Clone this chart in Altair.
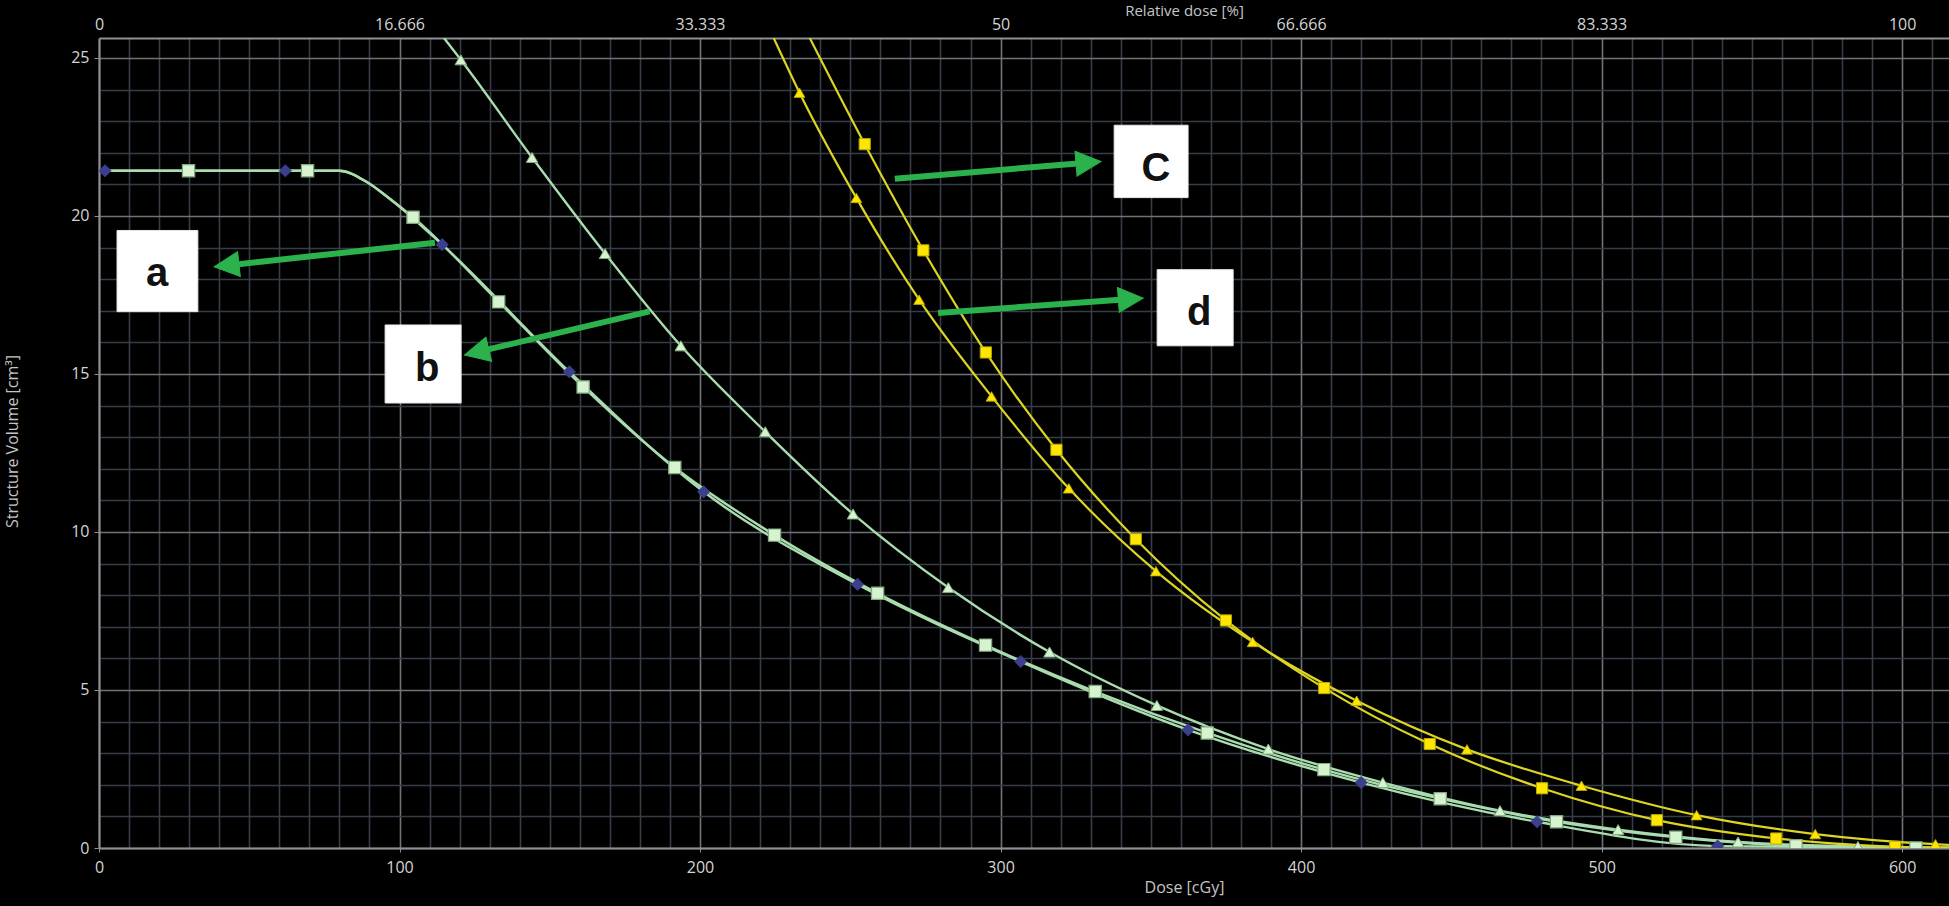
import math

import altair as alt
import pandas as pd

# ---------------------------------------------------------------- axes ranges
DOSE_MAX = 615.6          # cGy at the right edge of the plot
VOL_MAX = 25.63           # cm3 at the top edge of the plot
REL_PER_CGY = 100 / 600   # 600 cGy corresponds to 100 % relative dose
W, H = 1850, 810          # plot area in px

# ---------------------------------------------------------------- DVH curves
# a: plan drawn with square markers
A_SQ_DOSE = [29.8, 69.4, 104.5, 133.0, 161.1, 191.6, 224.8, 259.1, 295.0, 331.5,
             368.8, 407.6, 446.3, 485.0, 524.7, 564.7, 604.6]
A_SQ_VOL = [21.43, 21.43, 19.96, 17.28, 14.59, 12.04, 9.90, 8.06, 6.42, 4.95,
            3.64, 2.48, 1.56, 0.83, 0.34, 0.07, 0.00]
# a: companion plan drawn with diamond markers (almost on top of the first)
A_DM_DOSE = [2.0, 62.0, 114.2, 156.5, 201.2, 252.4, 306.7, 362.4, 420.0, 478.5, 538.6]
A_DM_VOL = [21.43, 21.43, 19.09, 15.07, 11.27, 8.34, 5.90, 3.74, 2.07, 0.83, 0.06]
# shoulder of curve a, between the plateau and the first falling marker
A_KNEE_DOSE = [0.0, 80.0, 89.0, 96.0]
A_KNEE_VOL = [21.43, 21.43, 21.08, 20.60]

# b: triangle markers
B_DOSE = [120.4, 144.1, 168.4, 193.6, 221.7, 250.9, 282.6, 316.3, 352.0, 389.1,
          427.2, 466.2, 505.5, 545.4, 585.3]
B_VOL = [24.94, 21.85, 18.81, 15.89, 13.17, 10.57, 8.24, 6.20, 4.51, 3.13,
         2.07, 1.18, 0.58, 0.19, 0.05]

# c: yellow, square markers
C_DOSE = [254.8, 274.3, 295.1, 318.6, 345.0, 375.0, 407.7, 442.8, 480.2, 518.4, 558.1, 597.7]
C_VOL = [22.27, 18.91, 15.68, 12.60, 9.77, 7.20, 5.06, 3.29, 1.89, 0.88, 0.30, 0.04]

# d: yellow, triangle markers
D_DOSE = [233.1, 252.0, 272.9, 297.0, 322.7, 351.7, 383.9, 418.5, 455.2, 493.3,
          531.6, 571.1, 611.1]
D_VOL = [23.90, 20.57, 17.35, 14.29, 11.38, 8.76, 6.52, 4.66, 3.12, 1.97,
         1.04, 0.44, 0.12]

# where each curve leaves the top edge and where it ends at the right edge
TOP_ENTRY = {"b": 114.8, "c": 236.5, "d": 224.5}
RIGHT_END = {"a1": 0.0, "a2": 0.0, "b": 0.01, "c": 0.01, "d": 0.10}

# ---------------------------------------------------------------- call-outs
LETTERS = ["a", "b", "C", "d"]
BOX_DOSE0 = [6.0, 95.2, 337.8, 352.1]
BOX_DOSE1 = [32.9, 120.5, 362.4, 377.4]
BOX_VOL0 = [16.97, 14.08, 20.58, 15.89]
BOX_VOL1 = [19.54, 16.55, 22.87, 18.30]
LETTER_DOSE = [19.3, 109.2, 351.7, 366.1]
LETTER_VOL = [17.79, 14.78, 21.12, 16.55]
ARROW_TAIL_DOSE = [111.8, 183.2, 264.8, 279.2]
ARROW_TAIL_VOL = [19.15, 16.98, 21.18, 16.93]
ARROW_TIP_DOSE = [38.3, 121.6, 333.4, 347.5]
ARROW_TIP_VOL = [18.39, 15.60, 21.72, 17.40]

# ---------------------------------------------------------------- styling
BG = "#000000"
GRID_MINOR = "#363d47"
GRID_MAJOR = "#707376"
AXIS_LINE = "#8d9094"
LABEL = "#d4d4d4"
TITLE = "#c4c4c4"
FONT = "Open Sans"
GREEN_LINE = "#a9dcae"
GREEN_FILL = "#d6f2cf"
GREEN_EDGE = "#7faa80"
NAVY = "#3b3f8e"
YELLOW_LINE = "#dcd622"
YELLOW_FILL = "#ffe600"
YELLOW_EDGE = "#b8a800"
ARROW = "#2bb24c"


def frame(dose, vol):
    return pd.DataFrame({"dose": dose, "vol": vol})


def path(dose, vol):
    df = frame(dose, vol).sort_values("dose").drop_duplicates("dose")
    return df.reset_index(drop=True)


line_a1 = path(A_KNEE_DOSE + A_SQ_DOSE + [DOSE_MAX], A_KNEE_VOL + A_SQ_VOL + [RIGHT_END["a1"]])
line_a2 = path(A_KNEE_DOSE + A_DM_DOSE + [DOSE_MAX], A_KNEE_VOL + A_DM_VOL + [RIGHT_END["a2"]])
line_b = path([TOP_ENTRY["b"]] + B_DOSE + [DOSE_MAX], [VOL_MAX] + B_VOL + [RIGHT_END["b"]])
line_c = path([TOP_ENTRY["c"]] + C_DOSE + [DOSE_MAX], [VOL_MAX] + C_VOL + [RIGHT_END["c"]])
line_d = path([TOP_ENTRY["d"]] + D_DOSE + [DOSE_MAX], [VOL_MAX] + D_VOL + [RIGHT_END["d"]])

# ---------------------------------------------------------------- scales / axes
major_x = "datum.value % 100 === 0"
major_y = "datum.value % 5 === 0"

x_scale = alt.Scale(domain=[0, DOSE_MAX], nice=False, zero=False)
y_scale = alt.Scale(domain=[0, VOL_MAX], nice=False, zero=False)

x_axis = alt.Axis(
    values=list(range(0, 611, 10)),
    grid=True,
    gridColor={"condition": {"test": major_x, "value": GRID_MAJOR}, "value": GRID_MINOR},
    gridWidth=1.6,
    labelExpr=f"{major_x} ? datum.label : ''",
    labelColor=LABEL, labelFont=FONT, labelFontSize=16, labelPadding=7,
    labelFlush=False, labelOverlap=False,
    tickColor={"condition": {"test": major_x, "value": AXIS_LINE}, "value": "transparent"},
    tickSize=4,
    domainColor=AXIS_LINE, domainWidth=2,
    title="Dose [cGy]", titleX=1085, titleY=39, titleAlign="center",
    titleBaseline="middle", titleColor=TITLE, titleFont=FONT, titleFontSize=16,
    titleFontWeight="normal",
)
y_axis = alt.Axis(
    values=list(range(0, 26)),
    grid=True,
    gridColor={"condition": {"test": major_y, "value": GRID_MAJOR}, "value": GRID_MINOR},
    gridWidth=1.6,
    labelExpr=f"{major_y} ? datum.label : ''",
    labelColor=LABEL, labelFont=FONT, labelFontSize=16, labelPadding=5,
    labelOverlap=False,
    tickColor={"condition": {"test": major_y, "value": AXIS_LINE}, "value": "transparent"},
    tickSize=5,
    domainColor=AXIS_LINE, domainWidth=2,
    title="Structure Volume [cm\u00b3]", titleX=-87, titleY=403, titleAngle=270,
    titleAlign="center", titleBaseline="middle", titleColor=TITLE, titleFont=FONT,
    titleFontSize=16, titleFontWeight="normal",
)

X = alt.X("dose:Q", scale=x_scale, axis=x_axis)
Y = alt.Y("vol:Q", scale=y_scale, axis=y_axis)


def curve(df, color, width):
    return alt.Chart(df).mark_line(
        color=color, strokeWidth=width, interpolate="monotone", clip=True
    ).encode(x=X, y=Y, order="dose:Q")


def markers(df, shape, size, fill, edge, width=1.0):
    return alt.Chart(df).mark_point(
        shape=shape, size=size, filled=True, fill=fill, stroke=edge,
        strokeWidth=width, opacity=1, clip=True
    ).encode(x=X, y=Y)


# ---------------------------------------------------------------- call-out geometry
def to_px(d, v):
    return d / DOSE_MAX * W, (1 - v / VOL_MAX) * H


def to_data(px, py):
    return px / W * DOSE_MAX, (1 - py / H) * VOL_MAX


HEAD_LEN = 25            # px from the base of an arrow head to its tip
shaft_rows, head_rows = [], []
for td, tv, hd, hv in zip(ARROW_TAIL_DOSE, ARROW_TAIL_VOL, ARROW_TIP_DOSE, ARROW_TIP_VOL):
    tx, ty = to_px(td, tv)
    hx, hy = to_px(hd, hv)
    dx, dy = hx - tx, hy - ty
    length = math.hypot(dx, dy)
    ux, uy = dx / length, dy / length
    ed, ev = to_data(hx - ux * (HEAD_LEN - 5), hy - uy * (HEAD_LEN - 5))
    shaft_rows.append({"dose": td, "vol": tv, "dose2": ed, "vol2": ev})
    head_rows.append({"dose": hd, "vol": hv,
                      "ang": math.degrees(math.atan2(dy, dx)) % 360})

boxes = pd.DataFrame({"dose": BOX_DOSE0, "dose2": BOX_DOSE1,
                      "vol": BOX_VOL0, "vol2": BOX_VOL1})
letters = pd.DataFrame({"dose": LETTER_DOSE, "vol": LETTER_VOL, "txt": LETTERS})

box_layer = alt.Chart(boxes).mark_rect(fill="#ffffff", stroke="#e6e6e6", strokeWidth=1).encode(
    x=X, x2="dose2:Q", y=Y, y2="vol2:Q")
letter_layer = alt.Chart(letters).mark_text(
    font="Liberation Sans Narrow, Arial Narrow, Liberation Sans, sans-serif",
    fontSize=40, fontWeight="bold", color="#111111",
    align="center", baseline="alphabetic",
).encode(x=X, y=Y, text="txt:N")
shaft_layer = alt.Chart(pd.DataFrame(shaft_rows)).mark_rule(
    color=ARROW, strokeWidth=6, strokeCap="butt").encode(x=X, y=Y, x2="dose2:Q", y2="vol2:Q")
# head path: tip at the origin, base two units back -> sqrt(size) px long
head_layer = alt.Chart(pd.DataFrame(head_rows)).mark_point(
    shape="M0,0L-2,-1L-2,1Z", size=HEAD_LEN ** 2, filled=True,
    fill=ARROW, stroke=ARROW, strokeWidth=1, opacity=1,
).encode(x=X, y=Y, angle=alt.Angle("ang:Q", scale=None))

# ---------------------------------------------------------------- plot body
body = alt.layer(
    curve(line_b, GREEN_LINE, 2.4),
    curve(line_a2, GREEN_LINE, 2.4),
    curve(line_a1, GREEN_LINE, 2.4),
    curve(line_d, YELLOW_LINE, 2.2),
    curve(line_c, YELLOW_LINE, 2.2),
    markers(frame(A_DM_DOSE, A_DM_VOL), "diamond", 160, NAVY, NAVY, 0.5),
    markers(frame(A_SQ_DOSE, A_SQ_VOL), "square", 150, GREEN_FILL, GREEN_EDGE, 1.2),
    markers(frame(B_DOSE, B_VOL), "triangle-up", 135, GREEN_FILL, GREEN_EDGE, 1.0),
    markers(frame(C_DOSE, C_VOL), "square", 125, YELLOW_FILL, YELLOW_EDGE, 1.0),
    markers(frame(D_DOSE, D_VOL), "triangle-up", 120, YELLOW_FILL, YELLOW_EDGE, 0.8),
    box_layer,
    shaft_layer,
    head_layer,
    letter_layer,
)

# secondary (top) axis: relative dose in percent of 600 cGy
rel_axis = alt.Axis(
    orient="top",
    values=[0, 16.666, 33.333, 50, 66.666, 83.333, 100],
    labelExpr="format(datum.value, '.3~f')",
    grid=False, ticks=False,
    labelColor=LABEL, labelFont=FONT, labelFontSize=16, labelPadding=6,
    labelFlush=False, labelOverlap=False,
    domainColor=AXIS_LINE, domainWidth=2,
    title="Relative dose [%]", titleX=1085, titleY=-35, titleAlign="center",
    titleBaseline="top", titleColor=TITLE, titleFont=FONT, titleFontSize=15,
    titleFontWeight="normal",
)
rel_df = pd.DataFrame({"rel": [0, DOSE_MAX * REL_PER_CGY], "vol": [0, 0]})
top_axis = alt.Chart(rel_df).mark_point(opacity=0).encode(
    x=alt.X("rel:Q", scale=alt.Scale(domain=[0, DOSE_MAX * REL_PER_CGY], nice=False, zero=False),
            axis=rel_axis),
    y=Y,
)

chart = (
    alt.layer(body, top_axis)
    .resolve_scale(x="independent")
    .properties(
        width=W, height=H, background=BG,
        padding={"left": 99, "top": 38, "right": 0, "bottom": 58},
        autosize=alt.AutoSizeParams(type="none"),
    )
    .configure_view(stroke=None)
)

chart.save("out.html", embed_options={"renderer": "svg", "actions": False})
